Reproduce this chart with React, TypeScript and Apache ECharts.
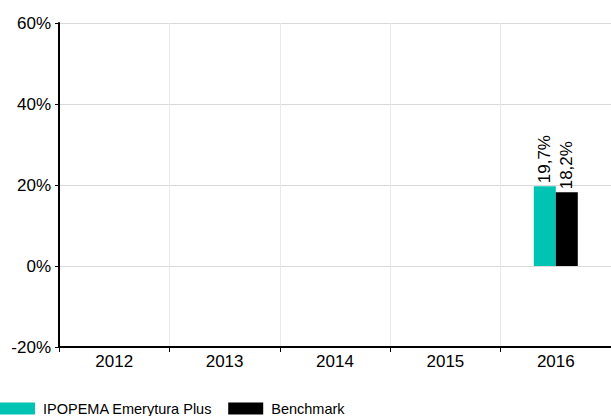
import React, { useEffect, useRef } from "react";
import * as echarts from "echarts";

const categories = ["2012", "2013", "2014", "2015", "2016"];
const fundValues: (number | null)[] = [null, null, null, null, 19.7];
const benchValues: (number | null)[] = [null, null, null, null, 18.2];
const seriesNames = ["IPOPEMA Emerytura Plus", "Benchmark"];
const seriesColors = ["#00c4b3", "#000000"];

const FONT = "Liberation Sans, Arial, sans-serif";

export default function App() {
  const ref = useRef<HTMLDivElement>(null);
  useEffect(() => {
    if (!ref.current) return;
    const chart = echarts.init(ref.current, undefined, { renderer: "svg" });
    const fmt = (p: any) =>
      p.value == null ? "" : String(p.value.toFixed(1)).replace(".", ",") + "%";
    const label = {
      show: true,
      position: "top" as const,
      rotate: 90,
      align: "left" as const,
      verticalAlign: "middle" as const,
      distance: 3,
      color: "#000",
      fontSize: 17,
      fontFamily: FONT,
      formatter: fmt,
    };
    chart.setOption({
      animation: false,
      textStyle: { fontFamily: FONT },
      grid: { left: 59, right: 0, top: 23, bottom: 69, containLabel: false },
      legend: {
        left: 0,
        top: 401,
        itemWidth: 35,
        itemHeight: 12,
        itemGap: 16,
        icon: "rect",
        padding: 0,
        textStyle: {
          fontSize: 14.5,
          color: "#000",
          fontFamily: FONT,
          padding: [0, 0, 0, 3],
        },
        data: seriesNames,
      },
      xAxis: {
        type: "category",
        data: categories,
        axisLine: { onZero: false, lineStyle: { color: "#000", width: 2 } },
        axisTick: { show: true, length: 5, lineStyle: { color: "#000" } },
        axisLabel: { color: "#000", fontSize: 17, fontFamily: FONT, margin: 6 },
        splitLine: { show: true, lineStyle: { color: "#e8e8e8", width: 1 } },
      },
      yAxis: {
        type: "value",
        min: -20,
        max: 60,
        interval: 20,
        axisLine: { show: true, lineStyle: { color: "#000", width: 2 } },
        axisTick: { show: true, length: 4, lineStyle: { color: "#000" } },
        axisLabel: {
          color: "#000",
          fontSize: 17,
          fontFamily: FONT,
          margin: 8,
          formatter: (v: number) => v + "%",
        },
        splitLine: { show: true, lineStyle: { color: "#d9d9d9", width: 1 } },
      },
      series: [
        {
          name: seriesNames[0],
          type: "bar",
          data: fundValues,
          barWidth: 22,
          barGap: "0%",
          itemStyle: { color: seriesColors[0] },
          label,
        },
        {
          name: seriesNames[1],
          type: "bar",
          data: benchValues,
          barWidth: 22,
          barGap: "0%",
          itemStyle: { color: seriesColors[1] },
          label,
        },
      ],
    });
    return () => chart.dispose();
  }, []);
  return (
    <div
      ref={ref}
      style={{ width: 611, height: 416, position: "absolute", left: 0, top: 0 }}
    />
  );
}
